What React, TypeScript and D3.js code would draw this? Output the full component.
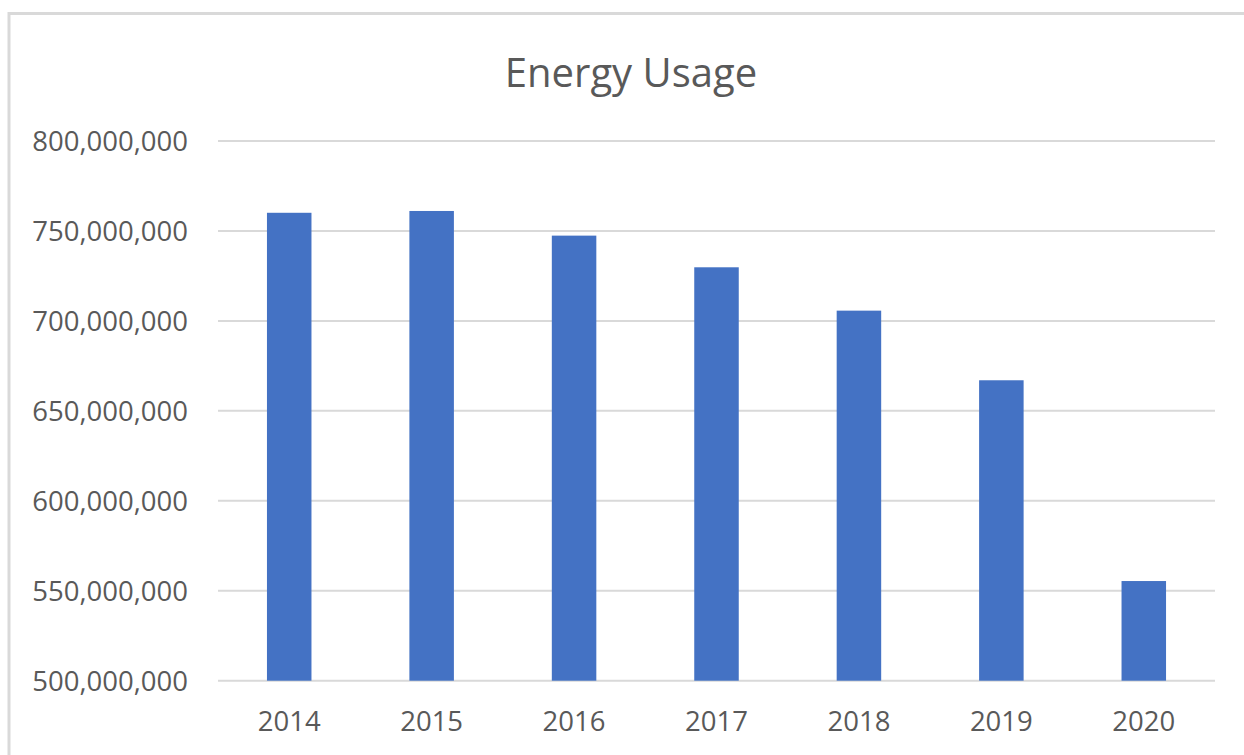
import React, { useEffect, useRef } from "react";
import * as d3 from "d3";

// data
const years = ["2014", "2015", "2016", "2017", "2018", "2019", "2020"];
const usage = [760100000, 761100000, 747400000, 729800000, 705700000, 667000000, 555400000];
const yTicks = [500000000, 550000000, 600000000, 650000000, 700000000, 750000000, 800000000];

const W = 1244;
const H = 755;

export default function App() {
    const svgRef = useRef<SVGSVGElement | null>(null);

    useEffect(() => {
        if (!svgRef.current) return;
        const svg = d3.select(svgRef.current);
        svg.selectAll("*").remove();

        const font = "'Open Sans', 'Noto Sans', sans-serif";
        const textColor = "#595959";

        // chart area frame
        svg
            .append("rect")
            .attr("x", 9)
            .attr("y", 13.5)
            .attr("width", W + 20)
            .attr("height", H + 20)
            .attr("fill", "#fff")
            .attr("stroke", "#d9d9d9")
            .attr("stroke-width", 3);

        const plot = { left: 218, right: 1215, top: 141, bottom: 680.7 };

        const x = d3
            .scaleBand<string>()
            .domain(years)
            .range([plot.left, plot.right])
            .paddingInner(0.6875)
            .paddingOuter(0.34375);

        const y = d3
            .scaleLinear()
            .domain([500000000, 800000000])
            .range([plot.bottom, plot.top]);

        // title
        svg
            .append("text")
            .attr("x", 631)
            .attr("y", 87)
            .attr("text-anchor", "middle")
            .attr("font-family", font)
            .attr("font-size", 40)
            .attr("fill", textColor)
            .text("Energy Usage");

        // gridlines
        svg
            .append("g")
            .selectAll("line")
            .data(yTicks)
            .enter()
            .append("line")
            .attr("x1", plot.left)
            .attr("x2", plot.right)
            .attr("y1", (d) => y(d))
            .attr("y2", (d) => y(d))
            .attr("stroke", "#d9d9d9")
            .attr("stroke-width", 2);

        // y axis labels
        const fmt = d3.format(",");
        svg
            .append("g")
            .selectAll("text")
            .data(yTicks)
            .enter()
            .append("text")
            .attr("x", 188)
            .attr("y", (d) => y(d))
            .attr("dy", "0.36em")
            .attr("text-anchor", "end")
            .attr("font-family", font)
            .attr("font-size", 27.5)
            .attr("fill", textColor)
            .text((d) => fmt(d));

        // bars
        svg
            .append("g")
            .selectAll("rect")
            .data(usage)
            .enter()
            .append("rect")
            .attr("x", (_, i) => x(years[i]) ?? 0)
            .attr("y", (d) => y(d))
            .attr("width", x.bandwidth())
            .attr("height", (d) => y.range()[0] - y(d))
            .attr("fill", "#4472c4");

        // x axis labels
        svg
            .append("g")
            .selectAll("text")
            .data(years)
            .enter()
            .append("text")
            .attr("x", (d) => (x(d) ?? 0) + x.bandwidth() / 2)
            .attr("y", 730.5)
            .attr("text-anchor", "middle")
            .attr("font-family", font)
            .attr("font-size", 27.5)
            .attr("fill", textColor)
            .text((d) => d);
    }, []);

    return (
        <svg
            ref={svgRef}
            width={W}
            height={H}
            style={{ position: "absolute", left: 0, top: 0, background: "#fff" }}
        />
    );
}
